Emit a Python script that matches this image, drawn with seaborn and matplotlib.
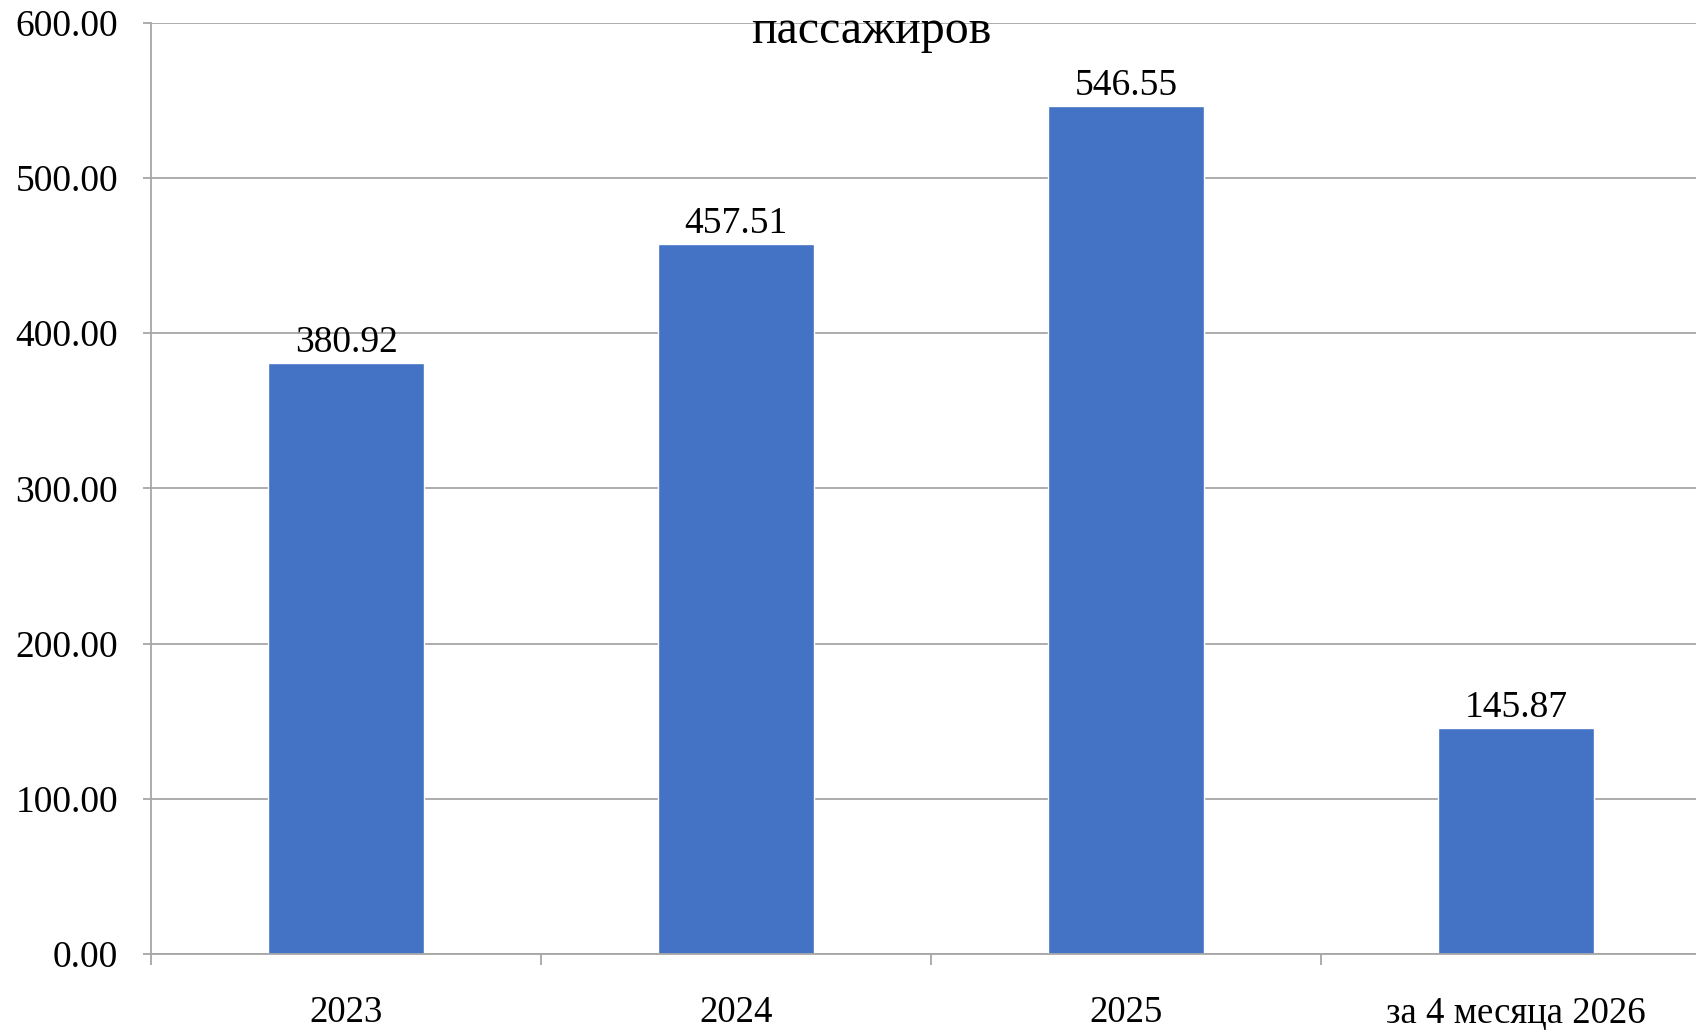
import numpy as np
import pandas as pd
import seaborn as sns
import matplotlib.pyplot as plt

# chart data
categories = ["2023", "2024", "2025", "за 4 месяца 2026"]
passengers = [380.92, 457.51, 546.55, 145.87]
y_ticks = [0, 100, 200, 300, 400, 500, 600]
title = "пассажиров"

df = pd.DataFrame({"period": categories, "value": passengers})

sns.set_theme(style="white")
plt.rcParams["font.family"] = ["Liberation Serif", "DejaVu Serif"]
plt.rcParams["text.color"] = "black"

grid_color = "#a6a6a6"
bar_color = "#4472C4"

fig = plt.figure(figsize=(16.96, 10.30), dpi=100)
# right edge of the plot area runs past the figure, as in the reference
ax = fig.add_axes([0.0893, 0.0738, 0.9196, 0.904])

sns.barplot(data=df, x="period", y="value", color=bar_color, width=0.4,
            saturation=1, edgecolor="white", linewidth=1, ax=ax)

ax.set_xlim(-0.5, len(categories) - 0.5)
ax.set_ylim(0, 600)
ax.set_yticks(y_ticks)
ax.set_yticklabels([f"{t:.2f}" for t in y_ticks])
ax.set_xlabel("")
ax.set_ylabel("")

ax.set_axisbelow(True)
ax.yaxis.grid(True, color=grid_color, linewidth=1.3)
ax.xaxis.grid(False)
for side in ["top", "right"]:
    ax.spines[side].set_visible(False)
for side in ["left", "bottom"]:
    ax.spines[side].set_color(grid_color)
    ax.spines[side].set_linewidth(1.3)

# category boundary ticks
ax.set_xticks(np.arange(-0.5, len(categories)), minor=True)
ax.tick_params(axis="x", which="minor", length=8, width=1.3, color=grid_color,
               direction="out", bottom=True)
ax.tick_params(axis="x", which="major", length=0, pad=30, labelsize=26.5,
               labelcolor="black")
ax.tick_params(axis="y", length=6, width=1.3, color=grid_color, direction="out",
               left=True, pad=18, labelsize=27, labelcolor="black")

for i, v in enumerate(passengers):
    ax.annotate(f"{v:.2f}", (i, v), xytext=(0, 2), textcoords="offset points",
                ha="center", va="bottom", fontsize=27, color="black")

fig.text(871 / 1696, 1 - 43 / 1030, title, ha="center", va="baseline",
         fontsize=34.5, color="black")

fig.savefig("out.png", dpi=100)
